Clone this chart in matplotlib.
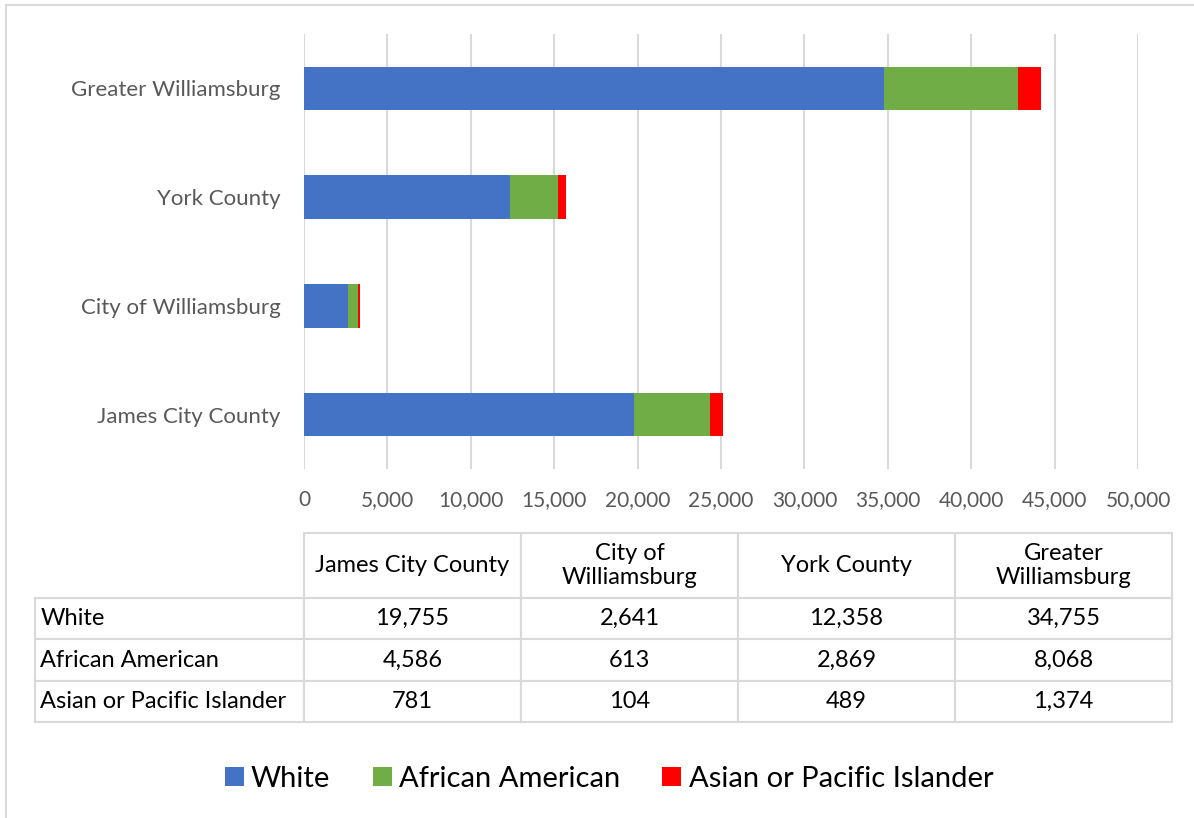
import numpy as np
import matplotlib
matplotlib.use('Agg')
import matplotlib.pyplot as plt
from matplotlib.lines import Line2D
from matplotlib.ticker import FuncFormatter

plt.rcParams['font.family'] = ['Lato', 'DejaVu Sans']

# population by race, 2010
areas = ['James City County', 'City of Williamsburg', 'York County', 'Greater Williamsburg']
area_headers = ['James City County', 'City of\nWilliamsburg', 'York County', 'Greater\nWilliamsburg']
races = ['White', 'African American', 'Asian or Pacific Islander']
white = [19755, 2641, 12358, 34755]
african_american = [4586, 613, 2869, 8068]
asian_pi = [781, 104, 489, 1374]
colors = ['#4472c4', '#70ad47', '#ff0000']

W, H = 1194, 818
fig = plt.figure(figsize=(W / 100, H / 100), dpi=100)

# chart frame (top and left edges only)
fig.add_artist(Line2D([6 / W, 6 / W], [0, 1 - 5 / H], color='#d9d9d9', lw=1.5))
fig.add_artist(Line2D([6 / W, 1], [1 - 5 / H, 1 - 5 / H], color='#d9d9d9', lw=1.5))

ax = fig.add_axes([304 / W, 1 - 469 / H, (1138 - 304) / W, (469 - 34) / H])
y = np.arange(len(areas))
left = np.zeros(len(areas))
for vals, name, c in zip([white, african_american, asian_pi], races, colors):
    ax.barh(y, vals, left=left, height=0.40, color=c, label=name, zorder=3)
    left += np.array(vals)

ax.set_xlim(0, 50000)
ax.set_ylim(-0.5, len(areas) - 0.5)
ax.set_xticks(np.arange(0, 50001, 5000))
ax.xaxis.set_major_formatter(FuncFormatter(lambda v, p: f'{int(v):,}'))
ax.set_yticks(y)
ax.set_yticklabels(areas, fontsize=16)
ax.grid(axis='x', color='#d9d9d9', lw=1.5, zorder=0)
for s in ax.spines.values():
    s.set_visible(False)
ax.tick_params(axis='both', length=0, colors='#595959')
ax.tick_params(axis='x', pad=15, labelsize=15)
ax.tick_params(axis='y', pad=17)

# data table under the chart; the axes covers the value cells, row labels hang to the left
tw, th = 1172 - 304, 722 - 533
tax = fig.add_axes([304 / W, 1 - 722 / H, tw / W, th / H])
tax.axis('off')
cell_text = [[f'{v:,}' for v in row] for row in [white, african_american, asian_pi]]
tbl = tax.table(cellText=cell_text, colLabels=area_headers,
                cellLoc='center', bbox=[0, 0, 1, 1])
for i, race in enumerate(races):
    tbl.add_cell(i + 1, -1, width=269 / tw, height=41.3 / th, text=race, loc='left')
tbl.auto_set_font_size(False)
tbl.set_fontsize(17)
for (r, c), cell in tbl.get_celld().items():
    cell.set_edgecolor('#d9d9d9')
    cell.set_linewidth(1.5)
    cell.set_width((269 if c == -1 else 217) / tw)
    cell.set_height((65 if r == 0 else 41.3) / th)
    if c == -1:
        cell.PAD = 0.02

fig.legend(loc='center', bbox_to_anchor=(609 / W, 1 - 779 / H), ncol=3,
           frameon=False, fontsize=21, handlelength=0.65, handleheight=0.65,
           handletextpad=0.25, columnspacing=1.45)

fig.savefig('out.png', dpi=100)
